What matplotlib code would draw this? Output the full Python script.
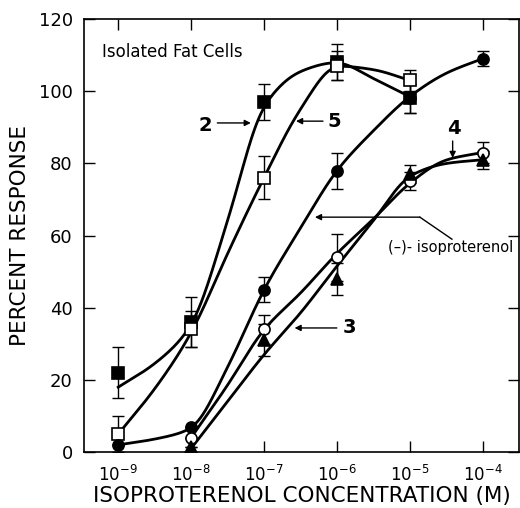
import numpy as np
import matplotlib.pyplot as plt

# concentrations (M)
conc = [1e-9, 1e-8, 1e-7, 1e-6, 1e-5, 1e-4]

# drawn curves are read at half-decade steps
fit_x9 = [10 ** e for e in (-9, -8.5, -8, -7.5, -7, -6.5, -6, -5.5, -5)]
fit_x9b = [10 ** e for e in (-9, -8.5, -8, -7.5, -7, -6.5, -6, -5.5, -5, -4.5, -4)]
fit_x8 = [10 ** e for e in (-8, -7.5, -7, -6.5, -6, -5.5, -5, -4.5, -4)]

# compound 2 (filled squares)
c2_x = [1e-9, 1e-8, 1e-7, 1e-6, 1e-5]
c2_y = [22, 36, 97, 108, 98]
c2_err = [7, 7, 5, 5, 4]
c2_fit = [18, 24.5, 35, 64, 96, 105.5, 108, 103.5, 98.5]

# compound 5 (open squares)
c5_x = [1e-9, 1e-8, 1e-7, 1e-6, 1e-5]
c5_y = [5, 34, 76, 107, 103]
c5_err = [5, 5, 6, 4, 3]
c5_fit = [5, 17.5, 33, 55, 76, 95, 107, 106, 103]

# (-)-isoproterenol (filled circles)
iso_x = [1e-9, 1e-8, 1e-7, 1e-6, 1e-5, 1e-4]
iso_y = [2, 7, 45, 78, 98, 109]
iso_err = [0, 0, 3.5, 5, 4, 2]
iso_fit = [2, 3.6, 6.5, 23.5, 45, 62, 78, 89, 98.5, 105, 109]

# compound 4 (open circles)
c4_x = [1e-8, 1e-7, 1e-6, 1e-5, 1e-4]
c4_y = [4, 34, 54, 75, 83]
c4_err = [0, 4, 6.5, 2.5, 3]
c4_fit = [4, 18.5, 34, 44, 55, 64.5, 74.5, 81, 83]

# compound 3 (filled triangles)
c3_x = [1e-8, 1e-7, 1e-6, 1e-5, 1e-4]
c3_y = [1.5, 31, 48, 77, 81]
c3_err = [0, 4.5, 4.5, 2.5, 2.5]
c3_fit = [1, 14, 27, 38.5, 51.5, 64, 76.5, 80, 81]


def smooth(xs, ys, step=0.01, sigma=0.09):
    # monotone cubic (PCHIP) in log10(x), then a light gaussian blur so the
    # hand-drawn look has no corners; only used for drawing the curves
    lx = np.log10(xs)
    y = np.array(ys, dtype=float)
    h = np.diff(lx)
    d = np.diff(y) / h
    m = np.zeros_like(y)
    for k in range(1, len(y) - 1):
        if d[k - 1] * d[k] > 0:
            m[k] = 2.0 / (1.0 / d[k - 1] + 1.0 / d[k])
    m[0] = d[0]
    m[-1] = d[-1]
    g = np.arange(lx[0], lx[-1] + step / 2, step)
    k = np.clip(np.searchsorted(lx, g, side='right') - 1, 0, len(h) - 1)
    t = (g - lx[k]) / h[k]
    gy = ((2 * t ** 3 - 3 * t ** 2 + 1) * y[k] + (t ** 3 - 2 * t ** 2 + t) * h[k] * m[k]
          + (-2 * t ** 3 + 3 * t ** 2) * y[k + 1] + (t ** 3 - t ** 2) * h[k] * m[k + 1])
    w = int(3 * sigma / step)
    kern = np.exp(-0.5 * (np.arange(-w, w + 1) * step / sigma) ** 2)
    kern /= kern.sum()
    pad = np.concatenate([2 * gy[0] - gy[1:w + 1][::-1], gy,
                          2 * gy[-1] - gy[-w - 1:-1][::-1]])
    sy = np.convolve(pad, kern, mode='valid')
    return 10 ** g, sy


fig = plt.figure(figsize=(5.2, 5.08), dpi=100)
ax = fig.add_axes([0.1615, 0.110, 0.8365, 0.8526])

series = [
    (c2_x, c2_y, c2_err, fit_x9, c2_fit, 's', 'black'),
    (c5_x, c5_y, c5_err, fit_x9, c5_fit, 's', 'white'),
    (iso_x, iso_y, iso_err, fit_x9b, iso_fit, 'o', 'black'),
    (c4_x, c4_y, c4_err, fit_x8, c4_fit, 'o', 'white'),
    (c3_x, c3_y, c3_err, fit_x8, c3_fit, '^', 'black'),
]

for xs, ys, err, fx, fit, mk, fc in series:
    sx, sy = smooth(fx, fit)
    ax.plot(sx, sy, color='black', lw=2, zorder=2)
    ax.errorbar(xs, ys, yerr=err, fmt='none', ecolor='black', elinewidth=1,
                capsize=4, capthick=1, zorder=3)
    ax.plot(xs, ys, mk, ms=8, mfc=fc, mec='black', mew=1.2, zorder=4)

ax.set_xscale('log')
ax.set_xlim(10 ** -9.47, 10 ** -3.5)
ax.set_ylim(0, 120)
ax.set_xticks(conc)
ax.set_xticklabels([r'$10^{-9}$', r'$10^{-8}$', r'$10^{-7}$',
                    r'$10^{-6}$', r'$10^{-5}$', r'$10^{-4}$'])
ax.xaxis.set_minor_locator(plt.NullLocator())
ax.set_yticks([0, 20, 40, 60, 80, 100, 120])
ax.tick_params(direction='in', length=8, width=1, labelsize=13,
               top=True, right=True, pad=8)
ax.tick_params(axis='x', pad=9, labelsize=12)
ax.set_xlabel('ISOPROTERENOL CONCENTRATION (M)', fontsize=15.5, labelpad=1)
ax.set_ylabel('PERCENT RESPONSE', fontsize=15.5, labelpad=6)
for s in ax.spines.values():
    s.set_linewidth(1.2)

ax.text(10 ** -9.22, 110.9, 'Isolated Fat Cells', fontsize=12, va='center')

arr = dict(arrowstyle='-|>', color='black', lw=1, mutation_scale=9,
           shrinkA=0, shrinkB=0)
# curve labels with arrows
ax.text(10 ** -7.81, 90.6, '2', fontsize=14, fontweight='bold', ha='center', va='center')
ax.annotate('', xy=(10 ** -7.18, 91.2), xytext=(10 ** -7.64, 91.2), arrowprops=arr)
ax.text(10 ** -6.04, 91.7, '5', fontsize=14, fontweight='bold', ha='center', va='center')
ax.annotate('', xy=(10 ** -6.56, 91.7), xytext=(10 ** -6.19, 91.7), arrowprops=arr)
ax.text(10 ** -4.39, 89.8, '4', fontsize=14, fontweight='bold', ha='center', va='center')
ax.annotate('', xy=(10 ** -4.41, 81.5), xytext=(10 ** -4.41, 86.2), arrowprops=arr)
ax.text(10 ** -5.82, 34.4, '3', fontsize=14, fontweight='bold', ha='center', va='center')
ax.annotate('', xy=(10 ** -6.58, 34.4), xytext=(10 ** -6.0, 34.4), arrowprops=arr)

# (-)-isoproterenol leader
ax.plot([10 ** -4.86, 10 ** -4.42], [65.1, 59.0], color='black', lw=1)
ax.annotate('', xy=(10 ** -6.30, 65.1), xytext=(10 ** -4.86, 65.1), arrowprops=arr)
ax.text(10 ** -5.30, 56.8, '(\u2013)- isoproterenol', fontsize=10.5, ha='left', va='center')

fig.savefig('out.png', dpi=100)
